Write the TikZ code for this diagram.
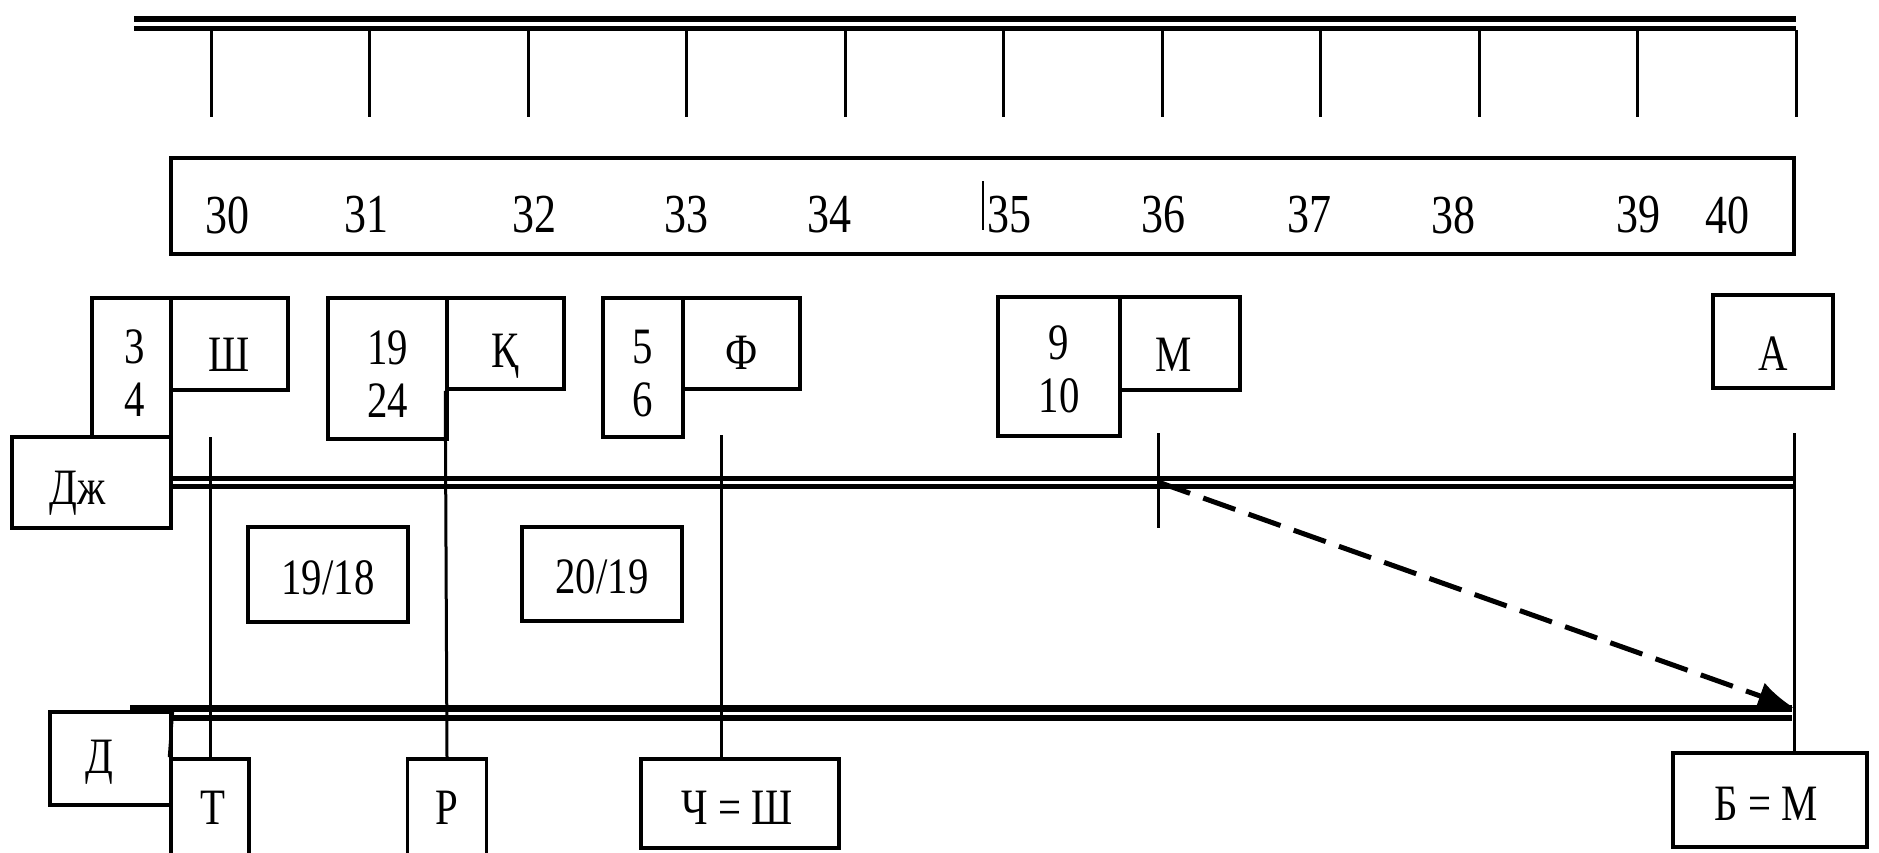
\documentclass[tikz,border=0pt]{standalone}
\usepackage{fontspec}
\setmainfont{Liberation Serif}
\usepackage{graphicx}
\usetikzlibrary{arrows.meta,calc}
\newcommand\cz[1]{\scalebox{0.8}[1]{#1}}
\tikzset{
  box/.style={draw, line width=3.5pt, rectangle, inner sep=0pt},
  lab/.style={inner sep=0pt, align=center, font=\fontsize{51}{53}\selectfont},
  numlab/.style={inner sep=0pt, font=\fontsize{55}{55}\selectfont},
  conn/.style={line width=3pt},
  tick/.style={line width=3pt},
  dbl/.style={double, line width=5.5pt, double distance=4pt},
  dashedarrow/.style={line width=5pt, dash pattern=on 34pt off 14pt,
    -{Latex[length=36pt,width=28pt]}}
}
\begin{document}
\begin{tikzpicture}[x=1pt,y=-1pt]
\useasboundingbox (0,0) rectangle (1879,852);
% top scale
\coordinate (topL) at (134,23.5);
\coordinate (topR) at (1796,23.5);
\draw[dbl] (topL) -- (topR);
\foreach \i in {0,...,10}{
  \coordinate (ta\i) at ({211+158.5*\i},30);
  \coordinate (tb\i) at ({211+158.5*\i},117);
  \draw[tick] (ta\i) -- (tb\i);
}
% number box
\node[box, minimum width=1623pt, minimum height=96pt] (numbox) at (982.5,206) {};
\foreach \n/\x in {30/227,31/366,32/534,33/686,34/829,35/1009,36/1163,37/1309,38/1453,39/1638,40/1727}{
  \node[numlab] (n\n) at (\x,215) {\cz{\n}};
}
\coordinate (barT) at (983,181);
\coordinate (barB) at (983,230);
\draw[line width=2pt] (barT) -- (barB);
% upper boxes
\node[box, minimum width=79pt, minimum height=139pt,
  label={[lab,xshift=3pt,yshift=-6pt]center:{\cz{3}\\\cz{4}}}] (b34) at (131.5,367.5) {};
\node[box, minimum width=117pt, minimum height=92pt,
  label={[lab,yshift=-11pt]center:{\cz{Ш}}}] (bSh) at (229.5,344) {};
\node[box, minimum width=159pt, minimum height=91pt,
  label={[lab,xshift=-14pt,yshift=-11pt]center:{\cz{Дж}}}] (bDzh) at (91.5,482.5) {};
\node[box, minimum width=119pt, minimum height=141pt,
  label={[lab,yshift=-6pt]center:{\cz{19}\\\cz{24}}}] (b1924) at (387.5,368.5) {};
\node[box, minimum width=117pt, minimum height=91pt,
  label={[lab,yshift=-13pt]center:{\cz{Қ}}}] (bK) at (505.5,343.5) {};
\node[box, minimum width=80pt, minimum height=139pt,
  label={[lab,yshift=-6pt]center:{\cz{5}\\\cz{6}}}] (b56) at (643,367.5) {};
\node[box, minimum width=117pt, minimum height=91pt,
  label={[lab,yshift=-9pt]center:{\cz{Ф}}}] (bF) at (741.5,343.5) {};
\node[box, minimum width=122pt, minimum height=139pt,
  label={[lab,yshift=-3pt]center:{\cz{9}\\\cz{10}}}] (b910) at (1059,366.5) {};
\node[box, minimum width=120pt, minimum height=93pt,
  label={[lab,xshift=-6pt,yshift=-11pt]center:{\cz{М}}}] (bM) at (1180,343.5) {};
\node[box, minimum width=120pt, minimum height=93pt,
  label={[lab,yshift=-12pt]center:{\cz{А}}}] (bA) at (1773,341.5) {};
% middle boxes
\node[box, minimum width=160pt, minimum height=95pt,
  label={[lab,yshift=-3pt]center:{\cz{19/18}}}] (b1918) at (328,574.5) {};
\node[box, minimum width=160pt, minimum height=94pt,
  label={[lab,yshift=-3pt]center:{\cz{20/19}}}] (b2019) at (602,574) {};
% lower boxes
\node[box, minimum width=121pt, minimum height=93pt,
  label={[lab,xshift=-11pt,yshift=-4pt]center:{\cz{Д}}}] (bD) at (110.5,758.5) {};
\node[box, minimum width=78pt, minimum height=97pt,
  label={[lab,xshift=3pt]center:{\cz{Т}}}] (bT) at (210,807.5) {};
\node[box, minimum width=79pt, minimum height=97pt,
  label={[lab]center:{\cz{Р}}}] (bR) at (447,807.5) {};
\node[box, minimum width=198pt, minimum height=89pt,
  label={[lab,xshift=-3pt,yshift=-4pt]center:{\cz{Ч = Ш}}}] (bCh) at (740,803.5) {};
\node[box, minimum width=194pt, minimum height=94pt,
  label={[lab,xshift=-4pt,yshift=-4pt]center:{\cz{Б = М}}}] (bB) at (1770,800) {};
% double lines
\coordinate (dzhR) at (1794,482.5);
\draw[line width=5pt, double, double distance=3.5pt] (bDzh.east) -- (dzhR);
\coordinate (dL) at (171,713);
\coordinate (dR) at (1792,713);
\coordinate (dExtL) at (130,708.5);
\coordinate (dExtR) at (173,708.5);
\draw[line width=6.5pt] (dExtL) -- (dExtR);
\draw[line width=6.5pt, double, double distance=3pt] (dL) -- (dR);
% vertical connectors
\coordinate (cT) at (210,437);
\draw[conn] (cT) -- (bT.north);
\draw[conn] (bK.south west) -- (bR.north);
\coordinate (cCh) at (721,435);
\draw[conn] (cCh) -- (cCh |- bCh.north);
\coordinate (cMt) at (1158,433);
\coordinate (cMb) at (1158,528);
\draw[conn] (cMt) -- (cMb);
\coordinate (cA) at (1794,433);
\draw[conn] (cA) -- (cA |- bB.north);
\draw[conn] (bD.north east) -- (bT.north west);
% dashed arrow
\coordinate (dashS) at (1158,482);
\coordinate (dashE) at (1794,708);
\draw[dashedarrow] (dashS) -- (dashE);
\end{tikzpicture}
\end{document}
